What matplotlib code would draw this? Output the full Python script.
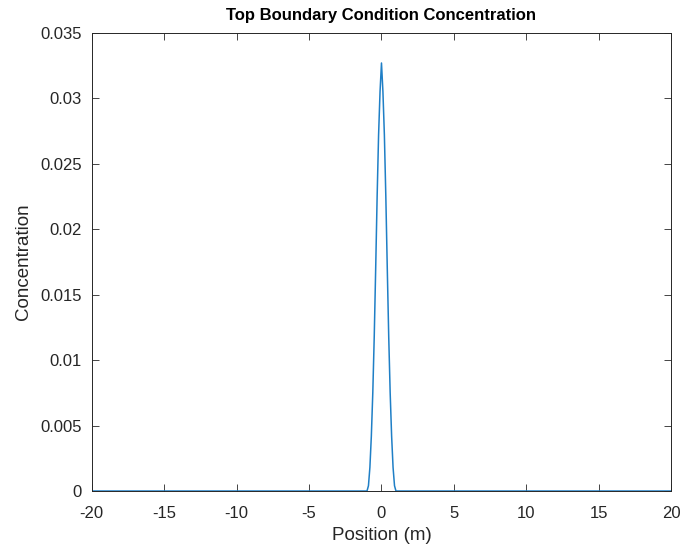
import numpy as np
import matplotlib.pyplot as plt

plt.rcParams['font.family'] = ['Liberation Sans', 'DejaVu Sans']

# position (m) and concentration
position = [-20, -1.0, -0.9, -0.8, -0.7, -0.6, -0.5, -0.4, -0.3, -0.2, -0.1, 0.0,
            0.1, 0.2, 0.3, 0.4, 0.5, 0.6, 0.7, 0.8, 0.9, 1.0, 20]
concentration = [0, 0, 0.0004, 0.0018, 0.0042, 0.0075, 0.0118, 0.0170, 0.0225, 0.0272, 0.0305, 0.0327,
                 0.0305, 0.0272, 0.0225, 0.0170, 0.0118, 0.0075, 0.0042, 0.0018, 0.0004, 0, 0]

xticks = [-20, -15, -10, -5, 0, 5, 10, 15, 20]
yticks = [0, 0.005, 0.01, 0.015, 0.02, 0.025, 0.03, 0.035]
ytick_labels = ['0', '0.005', '0.01', '0.015', '0.02', '0.025', '0.03', '0.035']

fig = plt.figure(figsize=(6.8, 5.48), dpi=100)
ax = fig.add_axes([0.135, 0.104, 0.852, 0.836])
ax.plot(position, concentration, color='#1f7fc6', linewidth=1.1)

ax.set_xlim(-20, 20)
ax.set_ylim(0, 0.035)
ax.set_xticks(xticks)
ax.set_xticklabels([str(t) for t in xticks])
ax.set_yticks(yticks)
ax.set_yticklabels(ytick_labels)

ax.tick_params(direction='in', top=True, right=True, length=5, width=0.6,
               labelsize=12, colors='#262626')
ax.tick_params(axis='x', pad=11)
ax.tick_params(axis='y', pad=7)
for s in ax.spines.values():
    s.set_color('#262626')
    s.set_linewidth(0.7)

ax.set_xlabel('Position (m)', fontsize=13.5, color='#262626', labelpad=4)
ax.set_ylabel('Concentration', fontsize=13.5, color='#262626', labelpad=6)
ax.set_title('Top Boundary Condition Concentration', fontsize=12, fontweight='bold',
             color='black', pad=9)

fig.savefig('out.png', dpi=100)
